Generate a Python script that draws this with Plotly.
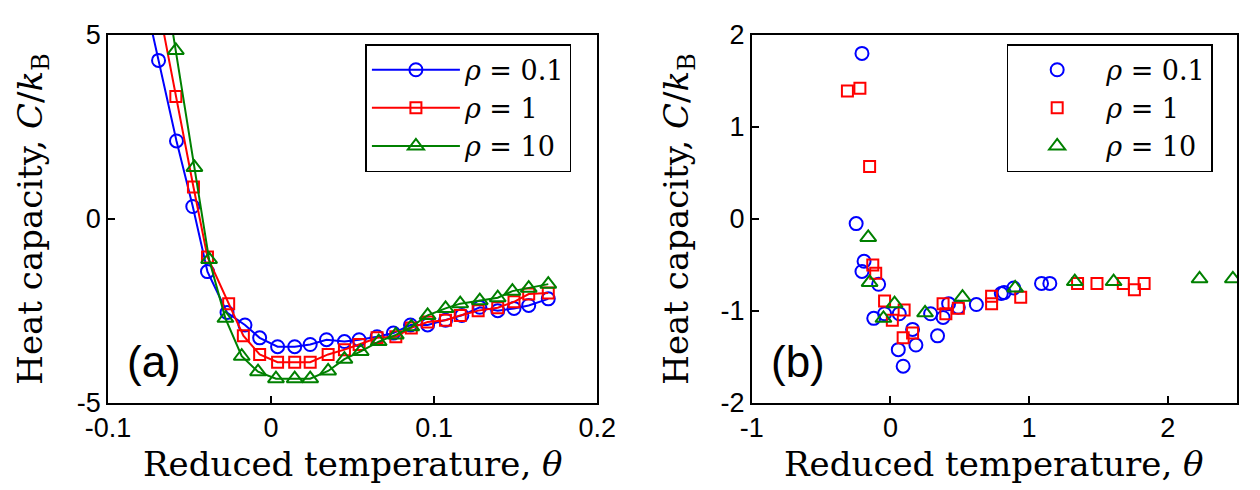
import plotly.graph_objects as go

# ---------------- Data: panel (a) ----------------
a_x_r01 = [-0.0795, -0.069, -0.058, -0.048, -0.039, -0.027, -0.016, -0.007, 0.004, 0.0145, 0.024, 0.034,
           0.045, 0.054, 0.065, 0.075, 0.0855, 0.096, 0.107, 0.117, 0.128, 0.139, 0.149, 0.158, 0.170]
a_y_r01 = [6.4, 4.31, 2.12, 0.34, -1.43, -2.54, -2.88, -3.23, -3.47, -3.47, -3.41, -3.28,
           -3.33, -3.28, -3.20, -3.10, -2.88, -2.88, -2.75, -2.62, -2.40, -2.49, -2.43, -2.35, -2.17]

a_x_r1 = [-0.069, -0.0584, -0.0476, -0.039, -0.026, -0.017, -0.007, 0.004, 0.0145, 0.024, 0.035,
          0.045, 0.054, 0.065, 0.0765, 0.086, 0.096, 0.107, 0.116, 0.127, 0.139, 0.149, 0.158, 0.170]
a_y_r1 = [5.8, 3.33, 0.87, -1.03, -2.30, -3.17, -3.68, -3.89, -3.89, -3.89, -3.68,
          -3.55, -3.41, -3.23, -3.20, -2.96, -2.80, -2.75, -2.62, -2.49, -2.41, -2.25, -2.04, -2.01]

a_x_r10 = [-0.069, -0.0584, -0.047, -0.038, -0.028, -0.018, -0.008, 0.003, 0.0145, 0.024, 0.035,
           0.045, 0.055, 0.066, 0.0765, 0.086, 0.096, 0.107, 0.116, 0.128, 0.139, 0.148, 0.158, 0.170]
a_y_r10 = [7.5, 4.58, 1.40, -1.10, -2.70, -3.73, -4.15, -4.34, -4.34, -4.34, -4.13,
           -3.81, -3.60, -3.33, -3.15, -2.93, -2.62, -2.43, -2.30, -2.22, -2.14, -1.96, -1.88, -1.77]

# ---------------- Data: panel (b) ----------------
b_x_r01 = [-0.205, -0.247, -0.19, -0.205, -0.085, -0.12, -0.042, 0.064, 0.16, 0.057, 0.184, 0.092,
           0.34, 0.29, 0.42, 0.38, 0.49, 0.62, 0.80, 0.82, 0.89, 1.09, 1.15]
b_y_r01 = [1.80, -0.05, -0.46, -0.57, -0.71, -1.08, -1.03, -1.03, -1.20, -1.42, -1.37, -1.60,
           -1.27, -1.03, -0.92, -1.07, -0.96, -0.93, -0.81, -0.80, -0.75, -0.70, -0.70]

b_x_r1 = [-0.31, -0.22, -0.15, -0.127, -0.106, -0.042, 0.099, 0.014, 0.092, 0.16, 0.38, 0.40,
          0.49, 0.73, 0.73, 0.94, 1.35, 1.49, 1.68, 1.76, 1.83]
b_y_r1 = [1.39, 1.42, 0.57, -0.50, -0.59, -0.89, -0.99, -1.10, -1.29, -1.24, -0.92, -1.03,
          -0.97, -0.84, -0.92, -0.85, -0.70, -0.70, -0.70, -0.77, -0.70]

b_x_r10 = [-0.16, -0.15, 0.03, -0.05, 0.25, 0.52, 0.90, 1.33, 1.61, 2.23, 2.47]
b_y_r10 = [-0.20, -0.69, -0.92, -1.08, -1.02, -0.85, -0.75, -0.68, -0.68, -0.65, -0.65]

labels = ["<i>ρ</i> = 0.1", "<i>ρ</i> = 1", "<i>ρ</i> = 10"]
colors = ["#0000FF", "#FF0000", "#008000"]
symbols = ["circle-open", "square-open", "triangle-up-open"]
sizes = [13, 11, 14]

a_x_ticks = [-0.1, 0, 0.1, 0.2]
a_x_text = ["-0.1", "0", "0.1", "0.2"]
a_y_ticks = [-5, 0, 5]
a_y_text = ["-5", "0", "5"]
b_x_ticks = [-1, 0, 1, 2]
b_x_text = ["-1", "0", "1", "2"]
b_y_ticks = [-2, -1, 0, 1, 2]
b_y_text = ["-2", "-1", "0", "1", "2"]

SERIF = "DejaVu Serif"
SANS = "Liberation Sans, Arial, sans-serif"

fig = go.Figure()

a_sets = [(a_x_r01, a_y_r01), (a_x_r1, a_y_r1), (a_x_r10, a_y_r10)]
b_sets = [(b_x_r01, b_y_r01), (b_x_r1, b_y_r1), (b_x_r10, b_y_r10)]

for i, (xs, ys) in enumerate(a_sets):
    fig.add_trace(go.Scatter(
        x=xs, y=ys, mode="lines+markers", name=labels[i],
        line=dict(color=colors[i], width=2),
        marker=dict(symbol=symbols[i], size=sizes[i], color=colors[i], line=dict(width=2, color=colors[i])),
        xaxis="x", yaxis="y", legend="legend"))

for i, (xs, ys) in enumerate(b_sets):
    fig.add_trace(go.Scatter(
        x=xs, y=ys, mode="markers", name=labels[i],
        marker=dict(symbol=symbols[i], size=sizes[i], color=colors[i], line=dict(width=2, color=colors[i])),
        xaxis="x2", yaxis="y2", legend="legend2"))

axis_common = dict(showline=True, linecolor="black", linewidth=1.5, mirror=True,
                   ticks="inside", ticklen=7, tickwidth=1.5, tickcolor="black",
                   showgrid=False, zeroline=False,
                   tickfont=dict(family=SANS, size=27, color="black"))

ytitle = "Heat capacity, <i>C</i>/<i>k</i><sub>B</sub>"
xtitle = "Reduced temperature, <i>θ</i>"
title_font = dict(family=SERIF, size=34, color="black")

legend_common = dict(xanchor="left", yanchor="top",
                     bordercolor="black", borderwidth=1.5, bgcolor="white",
                     font=dict(family=SERIF, size=27, color="black"), itemwidth=88,
                     tracegroupgap=0)

dom_a = [0, 0.4333]
dom_b = [0.5702, 1.0]

fig.update_layout(
    width=1260, height=490,
    margin=dict(l=100, r=13, t=17, b=95),
    paper_bgcolor="white", plot_bgcolor="white",
    xaxis=dict(domain=dom_a, range=[-0.1, 0.2], tickvals=a_x_ticks, ticktext=a_x_text,
               anchor="y", **axis_common),
    yaxis=dict(domain=[0, 1], range=[-5, 5], tickvals=a_y_ticks, ticktext=a_y_text,
               title=dict(text=ytitle, font=title_font, standoff=24), anchor="x", **axis_common),
    xaxis2=dict(domain=dom_b, range=[-1, 2.5], tickvals=b_x_ticks, ticktext=b_x_text,
                anchor="y2", **axis_common),
    yaxis2=dict(domain=[0, 1], range=[-2, 2], tickvals=b_y_ticks, ticktext=b_y_text,
                title=dict(text=ytitle, font=title_font, standoff=22), anchor="x2", **axis_common),
    legend=dict(x=0.228, y=0.975, **legend_common),
    legend2=dict(x=0.796, y=0.975, **legend_common),
    showlegend=True,
    annotations=[
        dict(text=xtitle, x=sum(dom_a) / 2, y=-0.165, xref="paper", yref="paper",
             xanchor="center", yanchor="middle", showarrow=False, font=title_font),
        dict(text=xtitle, x=sum(dom_b) / 2, y=-0.165, xref="paper", yref="paper",
             xanchor="center", yanchor="middle", showarrow=False, font=title_font),
        dict(text="(a)", x=0.015, y=0.04, xref="paper", yref="paper", xanchor="left", yanchor="bottom",
             showarrow=False, font=dict(family=SANS, size=44, color="black")),
        dict(text="(b)", x=dom_b[0] + 0.015, y=0.04, xref="paper", yref="paper", xanchor="left", yanchor="bottom",
             showarrow=False, font=dict(family=SANS, size=44, color="black")),
    ],
)

fig.write_html("out.html")
